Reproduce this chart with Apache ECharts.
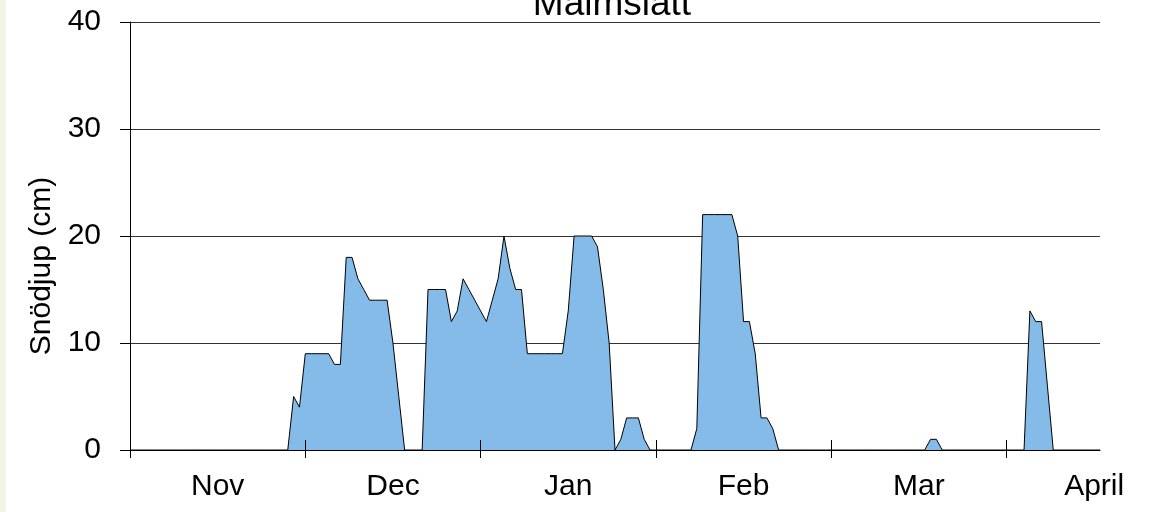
<!DOCTYPE html>
<html>
<head>
<meta charset="utf-8">
<script src="https://cdn.jsdelivr.net/npm/echarts@6/dist/echarts.min.js"></script>
<style>
  html, body { margin: 0; padding: 0; background: #ffffff; }
  #strip { position: absolute; left: 0; top: 0; width: 6px; height: 512px; background: #f5f3e6; }
  #chart { position: absolute; left: 0; top: 0; width: 1152px; height: 512px; }
</style>
</head>
<body>
<div id="strip"></div>
<div id="chart"></div>
<script>
// Chart title and axis name
const chartTitle = 'Malmslätt';
const yAxisName = 'Snödjup (cm)';

// Months shown on the x axis and number of daily categories in each
const monthLabels = ['Nov', 'Dec', 'Jan', 'Feb', 'Mar', 'April'];
const monthDays = [30, 31, 31, 28, 31, 16];

// Y-axis ticks
const yTicks = [0, 10, 20, 30, 40];

// Daily snow depth (cm), 1 Nov .. 16 April
const snowDepth = [
  // Nov (0-29)
  0,0,0,0,0,0,0,0,0,0, 0,0,0,0,0,0,0,0,0,0, 0,0,0,0,0,0,0,0,5,4,
  // Dec (30-60)
  9,9,9,9,9,8,8,18,18,16, 15,14,14,14,14,10,5,0,0,0, 0,15,15,15,15,12,13,16,15,14, 13,
  // Jan (61-91)
  12,14,16,20,17,15,15,9,9,9, 9,9,9,9,13,20,20,20,20,19, 15,10,0,1,3,3,3,1,0,0, 0,
  // Feb (92-119)
  0,0,0,0,0,2,22,22,22,22, 22,22,20,12,12,9,3,3,2,0, 0,0,0,0,0,0,0,0,
  // Mar (120-150)
  0,0,0,0,0,0,0,0,0,0, 0,0,0,0,0,0,0,1,1,0, 0,0,0,0,0,0,0,0,0,0, 0,
  // April (151-166)
  0,0,0,13,12,12,6,0,0,0, 0,0,0,0,0,0
];

// Build the category list (one per day) from the month table
const days = [];
const labelAt = {};
monthLabels.forEach((m, k) => {
  for (let d = 1; d <= monthDays[k]; d++) days.push(d + ' ' + m);
});
monthLabels.forEach((m, k) => {
  const idx = k * 30 + 15;
  if (idx < days.length) labelAt[days[idx]] = m;
});

const FONT = '"Liberation Sans", Arial, sans-serif';
const chart = echarts.init(document.getElementById('chart'), null, { renderer: 'canvas' });

chart.setOption({
  animation: false,
  backgroundColor: 'transparent',
  title: {
    text: chartTitle,
    left: 607,
    top: -19,
    textAlign: 'center',
    textStyle: { fontFamily: FONT, fontSize: 37, fontWeight: 'normal', color: '#000' }
  },
  grid: { left: 130, right: 52, top: 22, bottom: 62, containLabel: false },
  xAxis: [
    {
      type: 'category',
      data: days,
      boundaryGap: false,
      z: 5,
      axisLine: { show: true, lineStyle: { color: '#000', width: 1 } },
      axisTick: {
        show: true, inside: false, length: 8,
        interval: (i) => i % 30 === 0,
        lineStyle: { color: '#000', width: 1 }
      },
      axisLabel: {
        show: true,
        interval: (i) => i % 30 === 15,
        formatter: (v) => labelAt[v] || '',
        fontFamily: FONT, fontSize: 30, color: '#000', margin: 22
      },
      splitLine: { show: false }
    },
    {
      type: 'category',
      data: days,
      boundaryGap: false,
      position: 'bottom',
      z: 5,
      axisLine: { show: false },
      axisTick: {
        show: true, inside: true, length: 10,
        interval: (i) => i % 30 === 0,
        lineStyle: { color: '#000', width: 1 }
      },
      axisLabel: { show: false },
      splitLine: { show: false }
    }
  ],
  yAxis: {
    type: 'value',
    min: yTicks[0],
    max: yTicks[yTicks.length - 1],
    interval: 10,
    name: yAxisName,
    nameLocation: 'middle',
    nameRotate: 90,
    nameGap: 68,
    nameTextStyle: { fontFamily: FONT, fontSize: 30, color: '#000', padding: [0, 60, 0, 0] },
    axisLine: { show: true, lineStyle: { color: '#000', width: 1 } },
    axisTick: { show: true, inside: false, length: 10, lineStyle: { color: '#000', width: 1 } },
    axisLabel: { fontFamily: FONT, fontSize: 30, color: '#000', margin: 29 },
    splitLine: { show: true, lineStyle: { color: '#333', width: 1 } }
  },
  series: [{
    type: 'line',
    data: snowDepth,
    xAxisIndex: 0,
    symbol: 'none',
    lineStyle: { color: '#000', width: 1 },
    areaStyle: { color: '#85bbe8', opacity: 1 },
    z: 2
  }]
});
</script>
</body>
</html>
